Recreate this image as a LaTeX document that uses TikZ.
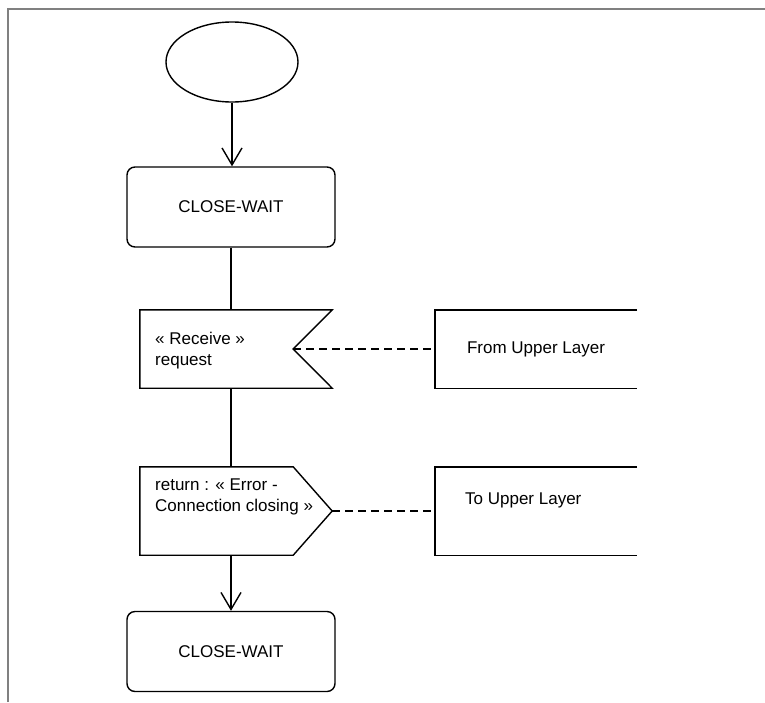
\documentclass[tikz,border=0pt]{standalone}
\usepackage{fontspec}
\setmainfont{Liberation Sans}
\usetikzlibrary{shapes.geometric,arrows.meta}
\tikzset{
  sdlline/.style={draw=black,line width=1.4pt},
  sdlflow/.style={sdlline,-{Straight Barb[length=17pt,width=20pt,line width=1.4pt]}},
  sdllink/.style={sdlline,dash pattern=on 8pt off 5pt},
  startoval/.style={sdlline,ellipse,minimum width=132pt,minimum height=80pt,inner sep=0pt},
  statebox/.style={sdlline,rectangle,rounded corners=8pt,minimum width=208pt,minimum height=80pt,inner sep=0pt},
  sigbox/.style={rectangle,inner sep=0pt,minimum width=192pt},
  envbox/.style={rectangle,inner sep=0pt,minimum width=202pt},
  sdltext/.style={font=\fontsize{17}{21}\selectfont,align=left,inner sep=0pt}
}
\begin{document}
\begin{tikzpicture}[x=1pt,y=1pt,yscale=-1,font=\fontsize{17}{21}\selectfont]
\useasboundingbox (0,0) rectangle (765,702);
% page frame
\draw[color={rgb,255:red,128;green,128;blue,128},line width=2pt] (8,702) -- (8,9) -- (765,9);
% states
\node[startoval] (start) at (232,62) {};
\node[statebox] (wait1) at (231,207) {CLOSE-WAIT};
\node[statebox] (wait2) at (231,651.5) {CLOSE-WAIT};
% receive signal
\node[sigbox,minimum height=78pt] (recv) at (236,349) {};
\coordinate (recvnotch) at ([xshift=-39pt]recv.east);
\draw[sdlline] (recv.north west) -- (recv.north east) -- (recvnotch) -- (recv.south east) -- (recv.south west) -- cycle;
\node[sdltext,anchor=west] (recvtext) at (155,351) {« Receive »\\request};
% output signal
\node[sigbox,minimum height=88pt] (send) at (236,511) {};
\coordinate (sendtip) at (send.east);
\draw[sdlline] (send.north west) -- ([xshift=-39pt]send.north east) -- (sendtip) -- ([xshift=-39pt]send.south east) -- (send.south west) -- cycle;
\node[sdltext,anchor=west] (sendtext) at (155,497) {return : « Error -\\Connection closing »};
% environment boxes, open on the right
\node[envbox,minimum height=78pt] (fromupper) at (536,349) {From Upper Layer};
\draw[sdlline] (fromupper.north east) -- (fromupper.north west) -- (fromupper.south west) -- (fromupper.south east);
\node[envbox,minimum height=88pt] (toupper) at (536,511) {};
\draw[sdlline] (toupper.north east) -- (toupper.north west) -- (toupper.south west) -- (toupper.south east);
\node[sdltext,anchor=west] (touppertext) at (465,500) {To Upper Layer};
% flow
\draw[sdlflow] (start.south) -- (start.south |- wait1.north);
\draw[sdlline] (wait1.south) -- (wait1.south |- recv.north);
\draw[sdlline] (wait1.south |- recv.south) -- (wait1.south |- send.north);
\draw[sdlflow] (wait1.south |- send.south) -- (wait2.north);
% links
\draw[sdllink] (recvnotch) -- (fromupper.west);
\draw[sdllink] (sendtip) -- (toupper.west);
\end{tikzpicture}
\end{document}
